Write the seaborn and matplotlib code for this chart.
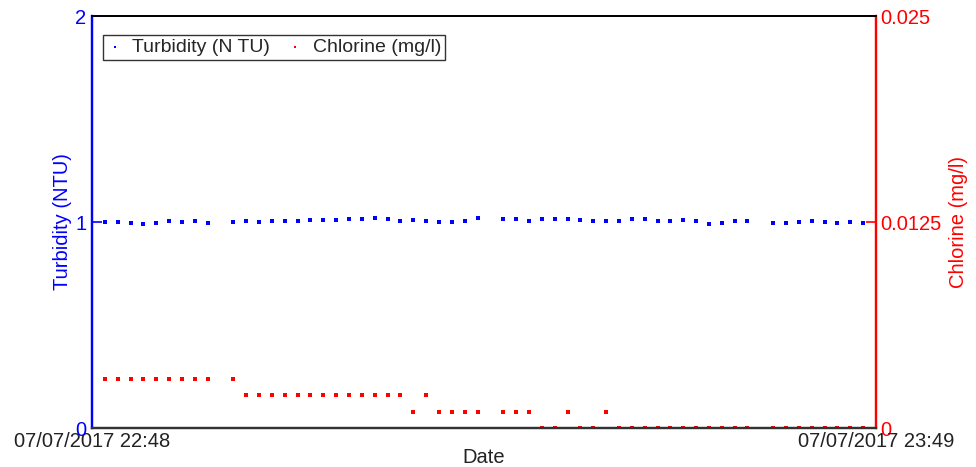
import numpy as np
import pandas as pd
import matplotlib
matplotlib.use("Agg")
import matplotlib.pyplot as plt
import matplotlib.dates as mdates
import seaborn as sns

# ---- data (minutes after 07/07/2017 22:48) ----
turb_minutes = list(range(1, 10)) + list(range(11, 31)) + list(range(32, 52)) + list(range(53, 61))
turb_values = [1.000, 1.002, 0.997, 0.990, 0.997, 1.003, 1.000, 1.003, 0.997,
               1.000, 1.006, 1.000, 1.003, 1.003, 1.006, 1.010, 1.010, 1.010, 1.016,
               1.016, 1.019, 1.016, 1.003, 1.010, 1.003, 1.000, 1.000, 1.003, 1.019,
               1.013, 1.013, 1.006, 1.013, 1.013, 1.013, 1.010, 1.003, 1.006, 1.006,
               1.013, 1.013, 1.003, 1.006, 1.010, 1.006, 0.990, 0.994, 1.003, 1.006,
               0.997, 0.997, 0.998, 1.003, 0.998, 0.997, 0.998, 0.997]

chl_minutes = (list(range(1, 10)) + [11] +
               list(range(12, 25)) + [26] +
               [25, 27, 28, 29, 30, 32, 33, 34, 37, 40] +
               [35, 36, 38, 39] + list(range(41, 52)) + list(range(53, 61)))
chl_values = ([0.003] * 10 + [0.002] * 14 + [0.001] * 10 + [0.0] * 23)

start_label = "2017-07-07 22:48"
end_label = "2017-07-07 23:49"
turb_name = "Turbidity (N TU)"
chl_name = "Chlorine (mg/l)"

base = pd.Timestamp(start_label)
end = pd.Timestamp(end_label)
df_t = pd.DataFrame({"Date": base + pd.to_timedelta(turb_minutes, unit="min"),
                     "Turbidity": turb_values})
df_c = pd.DataFrame({"Date": base + pd.to_timedelta(chl_minutes, unit="min"),
                     "Chlorine": chl_values})

sns.set_theme(style="white")
plt.rcParams["font.family"] = ["Liberation Sans", "DejaVu Sans"]

fig = plt.figure(figsize=(9.76, 4.67), dpi=100)
ax = fig.add_axes([92 / 976, 1 - 428 / 467, 784 / 976, 412 / 467])
ax2 = ax.twinx()

blue = "#0000FF"
red = "#FF0000"

sns.scatterplot(data=df_t, x="Date", y="Turbidity", ax=ax, color=blue, marker="s",
                s=6, linewidth=0, label=turb_name, legend=False)
sns.scatterplot(data=df_c, x="Date", y="Chlorine", ax=ax2, color=red, marker="s",
                s=6, linewidth=0, label=chl_name, legend=False)

ax.set_xlim(base, end)
ax.set_ylim(0, 2)
ax2.set_ylim(0, 0.025)
ax.set_yticks([0, 1, 2])
ax.set_yticklabels(["0", "1", "2"])
ax2.set_yticks([0, 0.0125, 0.025])
ax2.set_yticklabels(["0", "0.0125", "0.025"])
ax.set_xticks([base, end])
ax.xaxis.set_major_formatter(mdates.DateFormatter("%d/%m/%Y %H:%M"))

fs = 14.5
ax.tick_params(axis="y", direction="in", length=7, width=1.2, color=blue,
               labelcolor=blue, labelsize=fs, pad=4)
ax2.tick_params(axis="y", direction="in", length=7, width=1.2, color=red,
                labelcolor=red, labelsize=fs, pad=3)
ax.tick_params(axis="x", length=0, labelsize=fs, labelcolor="#222222", pad=3)

ax.set_xlabel("Date", fontsize=fs, color="#222222")
ax.xaxis.set_label_coords(0.499, -0.048)
ax.set_ylabel("Turbidity (NTU)", fontsize=fs, color=blue)
ax.yaxis.label.set_va("center")
ax.yaxis.set_label_coords(-0.0376, 0.5)
ax2.set_ylabel("Chlorine (mg/l)", fontsize=fs, color=red)
ax2.yaxis.label.set_va("center")
ax2.yaxis.set_label_coords(1.1046, 0.5)

for a in (ax, ax2):
    a.spines["left"].set_color(blue)
    a.spines["right"].set_color(red)
    a.spines["top"].set_color("black")
    a.spines["bottom"].set_color("#333333")
    a.spines["left"].set_linewidth(1.6)
    a.spines["right"].set_linewidth(1.6)
    a.spines["top"].set_linewidth(1.3)
    a.spines["bottom"].set_linewidth(1.6)
ax.grid(False)
ax2.grid(False)

h1, l1 = ax.get_legend_handles_labels()
h2, l2 = ax2.get_legend_handles_labels()
leg = ax.legend(h1 + h2, l1 + l2, loc="upper left", bbox_to_anchor=(0.014, 0.954),
                borderaxespad=0, ncol=2, fontsize=14, frameon=True, fancybox=False,
                edgecolor="black", handlelength=0.8, handletextpad=0.5,
                columnspacing=0.9, borderpad=0.2, markerscale=0.8)
leg.get_frame().set_linewidth(1.0)
ax.set_zorder(ax2.get_zorder() + 1)
ax.patch.set_visible(False)

fig.savefig("out.png", dpi=100)
